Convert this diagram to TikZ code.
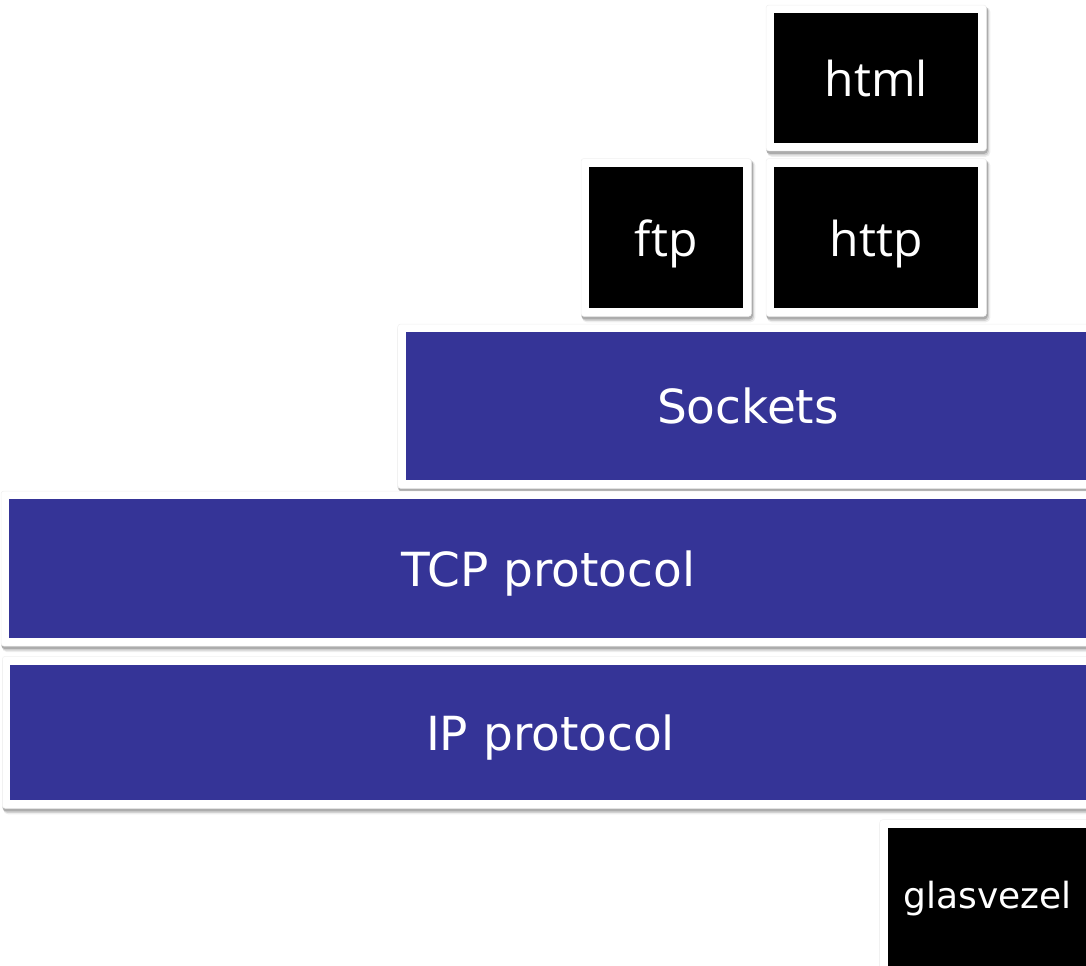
\documentclass[tikz,border=0pt]{standalone}
\usepackage{fontspec}
\newfontfamily\dejavu{DejaVu Sans}
\newfontfamily\opensans{Open Sans}
\usetikzlibrary{backgrounds}
\definecolor{boxblue}{RGB}{53,52,151}
\tikzset{
  layerbox/.style={fill=boxblue, text=white, inner sep=0pt, anchor=north west,
    text height=35.5bp, text depth=0pt,
    font=\dejavu\fontsize{47bp}{56bp}\selectfont},
  appbox/.style={fill=black, text=white, inner sep=0pt, anchor=north west,
    text height=37.5bp, text depth=0pt,
    font=\opensans\fontsize{48bp}{56bp}\selectfont},
  mediumbox/.style={fill=black, inner sep=0pt, anchor=north west},
  mediumtext/.style={text=white, inner sep=0pt, anchor=base,
    font=\dejavu\fontsize{36bp}{44bp}\selectfont},
}
\newcommand\frameit[1]{%
  \begin{scope}[on background layer]
    \fill[black, opacity=0.07, rounded corners=5] ([shift={(-7,-6)}]#1.north west) rectangle ([shift={(12,14)}]#1.south east);
    \fill[black, opacity=0.11, rounded corners=4] ([shift={(-7,-6)}]#1.north west) rectangle ([shift={(10.5,12.5)}]#1.south east);
    \fill[black, opacity=0.18, rounded corners=4] ([shift={(-8,-7)}]#1.north west) rectangle ([shift={(9.5,11)}]#1.south east);
    \fill[white, draw=black!6, line width=0.5bp, rounded corners=3] ([shift={(-8,-8)}]#1.north west) rectangle ([shift={(8,8)}]#1.south east);
  \end{scope}}
\begin{document}
\begin{tikzpicture}[x=1bp, y={(0bp,-1bp)}]
  \begin{scope}[on background layer]
    \fill[white] (0,0) rectangle (1086,966);
  \end{scope}
  \useasboundingbox (0,0) rectangle (1086,966);
  \node[appbox, minimum width=204bp, minimum height=129.5bp] (html) at (774,13) {html};
  \node[appbox, minimum width=154bp, minimum height=141.5bp] (ftp) at (589,166.5) {ftp};
  \node[appbox, minimum width=204bp, minimum height=141.5bp] (http) at (774,166.5) {http};
  \node[layerbox, minimum width=684bp, minimum height=148bp] (sockets) at (405.7,332) {Sockets};
  \node[layerbox, minimum width=1078bp, minimum height=138.7bp] (tcp) at (9,499) {TCP protocol};
  \node[layerbox, minimum width=1080bp, minimum height=135.7bp] (ip) at (10.3,664.3) {IP protocol};
  \node[mediumbox, minimum width=199.5bp, minimum height=150bp] (glas) at (887.7,827.7) {};
  \node[mediumtext] (glastext) at (987.5,908.3) {glasvezel};
  \frameit{html}
  \frameit{ftp}
  \frameit{http}
  \frameit{sockets}
  \frameit{tcp}
  \frameit{ip}
  \frameit{glas}
\end{tikzpicture}
\end{document}
